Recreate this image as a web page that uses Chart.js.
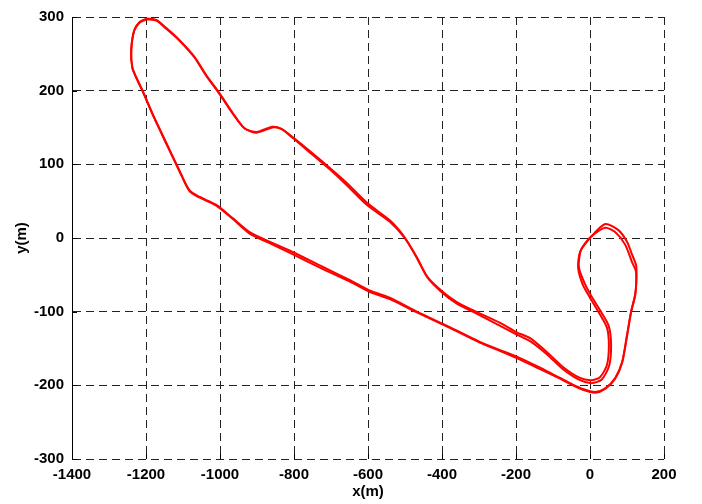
<!DOCTYPE html>
<html>
<head>
<meta charset="utf-8">
<script src="https://cdn.jsdelivr.net/npm/chart.js@4/dist/chart.umd.min.js"></script>
<style>
  html, body { margin: 0; padding: 0; background: #fff; }
  #wrap { width: 702px; height: 504px; position: relative; }
</style>
</head>
<body>
<div id="wrap"><canvas id="track"></canvas></div>
<script>
// ------ Data: two laps of the vehicle track (metres) ------
const lapA_x = [-1197, -1172, -1145, -1110, -1069, -1037, -1002, -966, -934, -901, -858, -834, -804, -750, -696, -658, -601, -541, -501, -468, -439, -398, -360, -317, -244, -198, -162, -116, -73, -27, 3, 27, 46, 51, 46, 27, 0, -19, -32, -27, 0, 41, 76, 100, 114, 125, 125, 122, 111, 100, 87, 68, 41, 14, -19, -54, -81, -135, -198, -244, -298, -379, -468, -541, -596, -650, -723, -804, -866, -920, -966, -1010, -1056, -1083, -1110, -1145, -1178, -1210, -1226, -1237, -1240, -1232, -1218, -1197];
const lapA_y = [298, 296, 285, 269, 246, 221, 197, 170, 149, 144, 151, 148, 137, 115, 92, 75, 47, 24, 1, -26, -53, -73, -87, -98, -115, -128, -136, -155, -175, -190, -193, -189, -172, -145, -122, -104, -81, -64, -41, -19, 0, 19, 11, -5, -23, -38, -60, -77, -100, -132, -168, -190, -204, -209, -205, -197, -190, -176, -161, -152, -141, -121, -100, -81, -71, -57, -39, -19, -5, 8, 27, 45, 56, 65, 92, 129, 164, 201, 218, 232, 255, 282, 293, 298];

const lapB_x = [-1197, -1172, -1145, -1110, -1069, -1037, -1002, -966, -934, -901, -858, -834, -804, -750, -696, -658, -601, -541, -501, -468, -439, -398, -360, -317, -244, -198, -162, -116, -73, -27, 5, 32, 52, 57, 51, 32, 5, -14, -30, -25, 3, 41, 68, 95, 113, 124, 125, 122, 111, 100, 87, 68, 41, 14, -19, -54, -81, -135, -198, -244, -298, -379, -468, -541, -596, -650, -723, -804, -866, -920, -966, -1010, -1056, -1083, -1110, -1145, -1178, -1210, -1226, -1237, -1240, -1232, -1218, -1197];
const lapB_y = [297, 295, 284, 268, 245, 220, 196, 169, 149, 143, 150, 148, 136, 113, 90, 72, 44, 22, 0, -27, -54, -75, -89, -100, -119, -131, -140, -158, -178, -193, -197, -192, -173, -145, -120, -102, -80, -62, -40, -17, 2, 14, 8, -9, -32, -45, -62, -78, -101, -133, -169, -191, -205, -210, -206, -198, -191, -178, -163, -153, -142, -122, -101, -83, -73, -59, -42, -22, -7, 6, 26, 44, 55, 64, 91, 128, 163, 200, 217, 231, 254, 281, 292, 297];

const xRange = [-1400, 200];
const yRange = [-300, 300];
const xLabel = 'x(m)';
const yLabel = 'y(m)';

const toPoints = (xs, ys) => xs.map((x, i) => ({ x, y: ys[i] }));

const FONT = { family: '"Liberation Sans", Arial, Helvetica, sans-serif', size: 15, weight: 'bold' };

// MATLAB-style inward tick marks on the left and bottom axes
const inwardTicks = {
  id: 'inwardTicks',
  afterDraw(chart) {
    const { ctx, chartArea: a, scales: { x, y } } = chart;
    ctx.save();
    ctx.strokeStyle = '#000';
    ctx.lineWidth = 1;
    ctx.beginPath();
    x.ticks.forEach(t => {
      const px = Math.round(x.getPixelForValue(t.value)) + 0.5;
      ctx.moveTo(px, a.bottom); ctx.lineTo(px, a.bottom - 5);
    });
    y.ticks.forEach(t => {
      const py = Math.round(y.getPixelForValue(t.value)) + 0.5;
      ctx.moveTo(a.left, py); ctx.lineTo(a.left + 5, py);
    });
    ctx.stroke();
    ctx.restore();
  }
};

const lapStyle = { showLine: true, pointRadius: 0, borderColor: '#ff0000', borderWidth: 2, tension: 0.25, fill: false };

new Chart(document.getElementById('track'), {
  type: 'scatter',
  data: {
    datasets: [
      { label: 'lap 1', data: toPoints(lapA_x, lapA_y), ...lapStyle },
      { label: 'lap 2', data: toPoints(lapB_x, lapB_y), ...lapStyle }
    ]
  },
  options: {
    responsive: true, maintainAspectRatio: false, animation: false,
    layout: { padding: { top: 16, right: 38, left: 0, bottom: 0 } },
    plugins: { legend: { display: false }, tooltip: { enabled: false } },
    scales: {
      x: {
        type: 'linear', min: xRange[0], max: xRange[1],
        afterFit: s => { s.height = 45; },
        ticks: { stepSize: 200, color: '#000', font: FONT, padding: 7, maxRotation: 0, callback: v => String(v) },
        grid: { color: '#222', lineWidth: 1, drawTicks: false },
        border: { display: false, dash: [8, 5] },
        title: { display: true, text: xLabel, color: '#000', font: FONT, padding: { top: 0, bottom: 3 } }
      },
      y: {
        type: 'linear', min: yRange[0], max: yRange[1],
        afterFit: s => { s.width = 72; },
        ticks: { stepSize: 100, color: '#000', font: FONT, padding: 8, callback: v => String(v) },
        grid: { color: '#222', lineWidth: 1, drawTicks: false },
        border: { display: true, color: '#000', width: 1, dash: [8, 5] },
        title: { display: true, text: yLabel, color: '#000', font: FONT, padding: { top: 13, bottom: 0 } }
      }
    }
  },
  plugins: [inwardTicks]
});
</script>
</body>
</html>
